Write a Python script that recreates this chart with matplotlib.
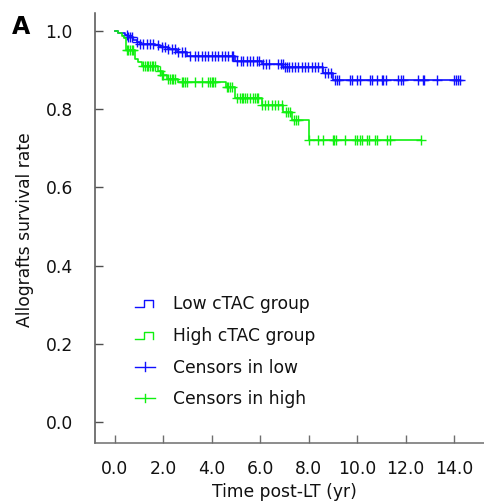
import numpy as np
import matplotlib
matplotlib.use("Agg")
import matplotlib.pyplot as plt
from matplotlib.legend_handler import HandlerBase
from matplotlib.lines import Line2D

# ---------------- data ----------------
low_times = [0.0, 0.15, 0.42, 0.56, 0.77, 0.91, 1.04, 1.66, 1.87, 2.2, 2.56, 2.97, 4.96, 6.06, 6.95, 8.6, 8.99]
low_surv = [1.0, 0.996, 0.99, 0.985, 0.978, 0.973, 0.968, 0.964, 0.959, 0.954, 0.948, 0.937, 0.923, 0.916, 0.909, 0.894, 0.875]
low_end = 14.24
low_censor = [0.49, 0.56, 0.63, 0.70, 0.91, 1.04, 1.18, 1.32, 1.46, 1.59, 1.80, 1.94, 2.07, 2.21, 2.35,
              2.49, 2.62, 2.76, 2.9, 3.1, 3.31, 3.45, 3.59, 3.72, 3.86, 4.0, 4.14, 4.27, 4.41, 4.55,
              4.68, 4.82, 4.89, 5.06, 5.2, 5.3, 5.44, 5.58, 5.69, 5.86, 5.96, 6.13, 6.24, 6.38, 6.75,
              6.85, 6.93, 7.02, 7.09, 7.20, 7.30, 7.43, 7.57, 7.71, 7.85, 7.99, 8.12, 8.26, 8.40, 8.54,
              8.67, 8.81, 8.91, 9.08, 9.18, 9.26, 9.70, 9.77, 10.0, 10.12, 10.53, 10.6, 10.83, 11.01,
              11.08, 11.19, 11.69, 11.79, 11.9, 12.52, 12.7, 12.77, 13.3, 13.99, 14.08, 14.17, 14.24]

high_times = [0.0, 0.15, 0.29, 0.40, 0.47, 0.84, 0.97, 1.11, 1.80, 1.94, 2.14, 2.60, 4.60, 4.96, 6.06, 6.95, 7.30, 8.0]
high_surv = [1.0, 0.995, 0.988, 0.982, 0.952, 0.930, 0.921, 0.910, 0.897, 0.888, 0.878, 0.869, 0.856, 0.828, 0.811, 0.792, 0.773, 0.721]
high_end = 12.63
high_censor = [0.49, 0.56, 0.63, 0.70, 0.77, 1.18, 1.25, 1.32, 1.39, 1.46, 1.53, 1.59, 1.66, 1.87, 1.94,
               2.0, 2.21, 2.28, 2.35, 2.42, 2.49, 2.76, 2.83, 2.9, 2.97, 3.31, 3.59, 3.86, 3.93, 4.0,
               4.07, 4.14, 4.62, 4.69, 4.76, 4.82, 5.03, 5.17, 5.24, 5.3, 5.37, 5.44, 5.58, 5.72, 5.79,
               5.86, 5.92, 6.06, 6.2, 6.33, 6.47, 6.61, 6.75, 6.89, 7.06, 7.16, 7.23, 7.39, 7.48, 7.57,
               8.02, 8.4, 8.6, 8.99, 9.04, 9.11, 9.5, 9.91, 9.98, 10.12, 10.19, 10.42, 10.5, 10.73,
               10.8, 11.22, 11.35, 12.63]

x_ticks = [0, 2, 4, 6, 8, 10, 12, 14]
x_labels = ["0.0", "2.0", "4.0", "6.0", "8.0", "10.0", "12.0", "14.0"]
y_ticks = [0.0, 0.2, 0.4, 0.6, 0.8, 1.0]
y_labels = ["0.0", "0.2", "0.4", "0.6", "0.8", "1.0"]
legend_labels = ["Low cTAC group", "High cTAC group", "Censors in low", "Censors in high"]

BLUE = "#1010ff"
GREEN = "#10f010"
SPINE = "#6e6e6e"
TXT = "#111111"

plt.rcParams["font.family"] = ["DejaVu Sans"]
FS = 12.3

fig = plt.figure(figsize=(4.85, 5.01), dpi=100)
ax = fig.add_axes([0.1959, 0.1164, 0.8041, 0.8583])


def surv_at(times, surv, t):
    idx = np.searchsorted(np.asarray(times), np.asarray(t), side="right") - 1
    return np.asarray(surv)[idx]


for times, surv, end, cens, col in [
    (low_times, low_surv, low_end, low_censor, BLUE),
    (high_times, high_surv, high_end, high_censor, GREEN),
]:
    xs = list(times) + [end]
    ys = list(surv) + [surv[-1]]
    ax.step(xs, ys, where="post", color=col, lw=1.2)
    ax.plot(cens, surv_at(times, surv, cens), linestyle="none", marker="+",
            markersize=6.5, markeredgewidth=1.0, color=col)

ax.set_xlim(-0.812, 15.27)
ax.set_ylim(-0.0538, 1.0476)
ax.set_xticks(x_ticks)
ax.set_xticklabels(x_labels)
ax.set_yticks(y_ticks)
ax.set_yticklabels(y_labels)

for s in ["top", "right"]:
    ax.spines[s].set_visible(False)
ax.spines["left"].set_color("#505050")
ax.spines["bottom"].set_color(SPINE)
ax.spines["left"].set_linewidth(1.1)
ax.spines["bottom"].set_linewidth(1.1)
ax.tick_params(axis="x", direction="in", length=5.5, width=1.0, color=SPINE,
               pad=12.5, labelsize=FS, labelcolor=TXT)
ax.tick_params(axis="y", direction="in", length=6, width=1.0, color="#505050",
               pad=16, labelsize=FS, labelcolor=TXT)

ax.set_xlabel("Time post-LT (yr)", fontsize=FS, color=TXT)
ax.xaxis.set_label_coords(0.4846, -0.093)
ax.set_ylabel("Allografts survival rate", fontsize=FS, color=TXT)
ax.yaxis.set_label_coords(-0.157, 0.495)

fig.text(12 / 485, 1 - 27 / 501, "A", fontsize=17, fontweight="bold", va="center", ha="left")


class StepHandler(HandlerBase):
    def create_artists(self, legend, orig_handle, xdescent, ydescent, width, height, fontsize, trans):
        w, h = width, height
        xs = [0.0, 0.45 * w, 0.45 * w, 0.92 * w, 0.92 * w]
        ys = [0.16 * h, 0.16 * h, 0.76 * h, 0.76 * h, 0.16 * h]
        xs = [x - xdescent for x in xs]
        ys = [y - ydescent for y in ys]
        return [Line2D(xs, ys, color=orig_handle.get_color(), lw=1.0, transform=trans)]


class CensorHandler(HandlerBase):
    def create_artists(self, legend, orig_handle, xdescent, ydescent, width, height, fontsize, trans):
        w, h = width, height
        ln = Line2D([-xdescent, w - xdescent], [0.5 * h - ydescent] * 2,
                    color=orig_handle.get_color(), lw=1.0, transform=trans)
        tk = Line2D([w / 2 - xdescent] * 2, [0.15 * h - ydescent, 0.85 * h - ydescent],
                    color=orig_handle.get_color(), lw=1.0, transform=trans)
        return [ln, tk]


class StepProxy(Line2D):
    pass


class CensorProxy(Line2D):
    pass


handles = [StepProxy([], [], color=BLUE), StepProxy([], [], color=GREEN),
           CensorProxy([], [], color=BLUE), CensorProxy([], [], color=GREEN)]
leg = ax.legend(handles, legend_labels, loc="upper left",
                bbox_to_anchor=(0.1026, 0.343), frameon=False,
                fontsize=FS, handlelength=1.17, handleheight=0.7, handletextpad=1.05,
                labelspacing=0.80, borderaxespad=0, borderpad=0,
                handler_map={StepProxy: StepHandler(), CensorProxy: CensorHandler()})
for t in leg.get_texts():
    t.set_color(TXT)

fig.savefig("out.png", dpi=100)
